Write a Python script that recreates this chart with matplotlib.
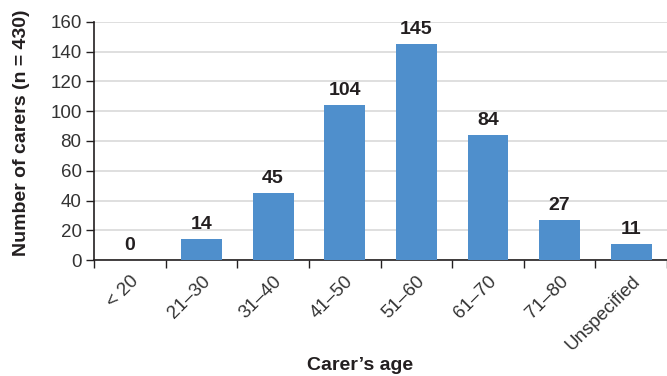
import matplotlib.pyplot as plt
import numpy as np

plt.rcParams['font.family'] = ['Liberation Sans', 'DejaVu Sans']

age_groups = ['< 20', '21–30', '31–40', '41–50', '51–60', '61–70', '71–80', 'Unspecified']
carers = [0, 14, 45, 104, 145, 84, 27, 11]

text_color = '#231f20'
bar_color = '#4f8fcc'

fig = plt.figure(figsize=(6.67, 3.76), dpi=100)
ax = fig.add_axes([0.141, 0.3085, 0.859, 0.633])

x = np.arange(len(age_groups))
ax.bar(x, carers, width=0.57, color=bar_color, zorder=3)

for xi, v in zip(x, carers):
    ax.text(xi, v + 4, str(v), ha='center', va='bottom', fontsize=14,
            fontweight='bold', color=text_color)

ax.set_xlim(-0.5, len(age_groups) - 0.5)
ax.set_ylim(0, 160)
ax.set_yticks(range(0, 161, 20))
ax.yaxis.grid(True, color='#d9d9d9', linewidth=1.2, zorder=0)

# ticks sit on the category boundaries, labels at the centres
ax.set_xticks(np.arange(len(age_groups) + 1) - 0.5)
ax.set_xticklabels([])
ax.set_xticks(x, minor=True)
ax.set_xticklabels(age_groups, minor=True, rotation=45, ha='right',
                   rotation_mode='anchor', fontsize=13.5, color='#333333')
ax.tick_params(axis='x', which='minor', length=0, pad=9)
ax.tick_params(axis='x', which='major', length=6, width=1, color=text_color)
ax.tick_params(axis='y', length=6, width=1, color=text_color, labelsize=13.5,
               labelcolor='#333333', pad=3)

for side in ['top', 'right']:
    ax.spines[side].set_visible(False)
for side in ['left', 'bottom']:
    ax.spines[side].set_color(text_color)
    ax.spines[side].set_linewidth(1.2)

ax.set_ylabel('Number of carers (n = 430)', fontsize=14, fontweight='bold',
              color=text_color)
ax.yaxis.set_label_coords(-0.112, 0.535)
fig.text(0.54, 0.016, 'Carer’s age', ha='center', va='baseline', fontsize=14,
         fontweight='bold', color=text_color)

fig.savefig('out.png', dpi=100)
